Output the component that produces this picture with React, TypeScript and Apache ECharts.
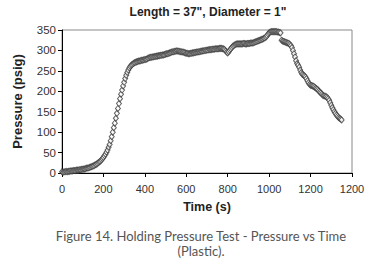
import React, { useEffect, useRef } from "react";
import * as echarts from "echarts";

const chartTitle = 'Length = 37", Diameter = 1"';
const xAxisName = "Time (s)";
const yAxisName = "Pressure (psig)";
const captionLines = ["Figure 14. Holding Pressure Test - Pressure vs Time", "(Plastic)."];
const xTickLabels = ["0", "200", "400", "600", "800", "1000", "1200", "1200"];
const yTicks = [0, 50, 100, 150, 200, 250, 300, 350];

// Sampling interval of the logged data (seconds)
const sampleIntervalS = 5;

// Pressure (psig), one value per 5 s sample starting at 0 s
const pressure0to195 = [
  3, 2, 3, 3, 4, 3, 4, 4, 5, 5, 5, 6, 6, 6, 7, 7, 7, 8, 8, 9,
  9, 10, 10, 11, 12, 12, 13, 14, 15, 16, 17, 18, 20, 21, 23, 25, 27, 29, 32, 35,
];
const pressure200to395 = [
  38, 42, 46, 51, 56, 63, 70, 79, 89, 100, 111, 122, 134, 146, 158, 170, 182, 193, 203, 213,
  222, 231, 239, 246, 252, 257, 261, 264, 266, 268, 270, 271, 272, 273, 274, 274, 275, 276, 276, 277,
];
const pressure400to595 = [
  278, 278, 279, 281, 282, 283, 283, 284, 284, 285, 285, 286, 286, 287, 287, 288, 288, 289, 289, 290,
  291, 292, 292, 293, 294, 295, 296, 297, 297, 298, 298, 299, 298, 298, 297, 297, 296, 296, 295, 294,
];
const pressure600to795 = [
  293, 293, 292, 292, 293, 293, 294, 294, 295, 295, 296, 296, 297, 297, 298, 298, 299, 299, 300, 300,
  301, 301, 302, 302, 302, 303, 303, 303, 304, 304, 304, 304, 305, 305, 305, 304, 304, 302, 299, 296,
];
const pressure800to995 = [
  294, 297, 301, 304, 307, 310, 312, 314, 315, 316, 316, 316, 316, 316, 316, 317, 317, 316, 316, 317,
  317, 317, 318, 318, 318, 319, 320, 321, 322, 323, 324, 325, 326, 327, 328, 330, 331, 333, 336, 340,
];
const pressure1000to1195 = [
  343, 345, 346, 346, 346, 346, 346, 346, 345, 345, 344, 343, 325, 323, 322, 321, 320, 319, 318, 317,
  315, 312, 307, 300, 292, 284, 275, 268, 264, 259, 252, 246, 242, 240, 238, 235, 231, 226, 221, 217,
];
const pressure1200to1350 = [
  215, 214, 213, 212, 210, 208, 206, 204, 201, 198, 196, 193, 190, 189, 188, 187, 185, 182, 178, 172,
  166, 160, 155, 150, 146, 142, 139, 136, 134, 132, 130,
];

const pressureValues = [
  ...pressure0to195,
  ...pressure200to395,
  ...pressure400to595,
  ...pressure600to795,
  ...pressure800to995,
  ...pressure1000to1195,
  ...pressure1200to1350,
];

export default function App() {
  const ref = useRef<HTMLDivElement>(null);

  useEffect(() => {
    if (!ref.current) return;
    const chart = echarts.init(ref.current, undefined, { renderer: "svg" });
    const data = pressureValues.map((v, i) => [i * sampleIntervalS, v]);
    const font = "'Liberation Sans', Arial, sans-serif";
    const captionFont = "Lato, 'Noto Sans', sans-serif";
    chart.setOption({
      animation: false,
      backgroundColor: "#ffffff",
      grid: {
        left: 62,
        top: 30,
        width: 290,
        height: 143,
        show: true,
        borderColor: "#8a8a8a",
        borderWidth: 1,
        backgroundColor: "transparent",
      },
      xAxis: {
        type: "value",
        min: 0,
        max: 1400,
        interval: 200,
        name: xAxisName,
        nameLocation: "middle",
        nameGap: 27,
        nameTextStyle: { fontFamily: font, fontSize: 12.5, fontWeight: "bold", color: "#222" },
        axisLine: { lineStyle: { color: "#000", width: 1 } },
        axisTick: { inside: false, length: 4, lineStyle: { color: "#000" } },
        axisLabel: {
          fontFamily: font,
          fontSize: 11,
          color: "#333",
          margin: 10,
          formatter: (v: number) => xTickLabels[Math.round(v / 200)] ?? "",
        },
        splitLine: { show: false },
      },
      yAxis: {
        type: "value",
        min: yTicks[0],
        max: yTicks[yTicks.length - 1],
        interval: 50,
        name: yAxisName,
        nameLocation: "middle",
        nameGap: 38,
        nameTextStyle: { fontFamily: font, fontSize: 13, fontWeight: "bold", color: "#222" },
        axisLine: { show: true, lineStyle: { color: "#000", width: 1 } },
        axisTick: { show: true, length: 4, lineStyle: { color: "#000" } },
        axisLabel: { fontFamily: font, fontSize: 11.5, color: "#333", margin: 6 },
        splitLine: { show: false },
      },
      series: [
        {
          type: "scatter",
          data,
          symbol: "diamond",
          symbolSize: [5, 6],
          itemStyle: { color: "#ffffff", borderColor: "#3a3a3a", borderWidth: 1 },
        },
      ],
      graphic: [
        {
          type: "text",
          x: 208,
          y: 12,
          style: {
            text: chartTitle,
            fontFamily: font,
            fontSize: 12,
            fontWeight: "bold",
            fill: "#222",
            align: "center",
            verticalAlign: "middle",
          },
        },
        {
          type: "text",
          x: 201,
          y: 236,
          style: {
            text: captionLines[0],
            fontFamily: captionFont,
            fontSize: 13,
            fill: "#555",
            align: "center",
            verticalAlign: "middle",
          },
        },
        {
          type: "text",
          x: 201,
          y: 251,
          style: {
            text: captionLines[1],
            fontFamily: captionFont,
            fontSize: 13,
            fill: "#555",
            align: "center",
            verticalAlign: "middle",
          },
        },
      ],
    });
    return () => chart.dispose();
  }, []);

  return (
    <div
      ref={ref}
      style={{ position: "fixed", left: 0, top: 0, width: 379, height: 266, background: "#fff" }}
    />
  );
}
